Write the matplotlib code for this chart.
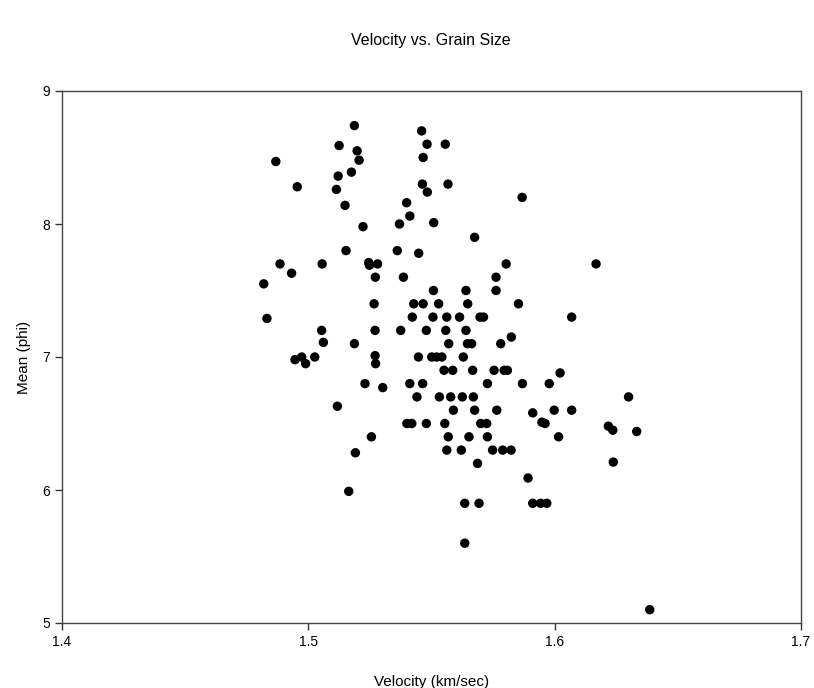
import matplotlib
matplotlib.use("Agg")
import matplotlib.pyplot as plt

plt.rcParams['font.family'] = ['Liberation Sans', 'DejaVu Sans']

velocity = [
    1.5187, 1.5460, 1.5125, 1.5482, 1.5198, 1.4868, 1.5206, 1.5466, 1.5175, 1.5121,
    1.5114, 1.4955, 1.5463, 1.5483, 1.5149, 1.5399, 1.5412, 1.5370, 1.5509, 1.5222,
    1.5153, 1.5361, 1.5448, 1.4885, 1.4932, 1.5056, 1.5245, 1.5248, 1.5281, 1.4819,
    1.5272, 1.5386, 1.5508,
    1.5556, 1.5567, 1.5868, 1.5675, 1.5803, 1.6168, 1.5762, 1.5640, 1.5762,
    1.5267, 1.5428, 1.5466, 1.5529, 1.4832, 1.5422, 1.5506, 1.5054, 1.5271, 1.5375,
    1.5479, 1.5061, 1.5187, 1.4946, 1.4973, 1.4989, 1.5026, 1.5271, 1.5273, 1.5447,
    1.5230, 1.5302, 1.5412, 1.5464, 1.5441, 1.5532, 1.5118, 1.5400, 1.5420, 1.5479,
    1.5256, 1.5191,
    1.5164, 1.5635, 1.5635, 1.5693, 1.5892, 1.5911, 1.5943, 1.5968, 1.6386,
    1.5647, 1.5853, 1.5562, 1.5614, 1.5697, 1.5711, 1.5558, 1.5640, 1.5824, 1.5570,
    1.5646, 1.5663, 1.5781, 1.5501, 1.5521, 1.5542, 1.5629, 1.5551, 1.5586, 1.5667,
    1.5754, 1.5795, 1.5808,
    1.5727, 1.5869, 1.5578, 1.5625, 1.5670, 1.5589, 1.5675, 1.5765, 1.5554, 1.5700,
    1.5724, 1.5568, 1.5652, 1.5727, 1.5562, 1.5621, 1.5748, 1.5789, 1.5823, 1.5687,
    1.6022, 1.5978, 1.5911, 1.5998, 1.6069, 1.5948, 1.5961, 1.6016, 1.6218, 1.6236,
    1.6238, 1.6069, 1.6300, 1.6333,
]

mean_phi = [
    8.74, 8.70, 8.59, 8.60, 8.55, 8.47, 8.48, 8.50, 8.39, 8.36,
    8.26, 8.28, 8.30, 8.24, 8.14, 8.16, 8.06, 8.00, 8.01, 7.98,
    7.80, 7.80, 7.78, 7.70, 7.63, 7.70, 7.71, 7.69, 7.70, 7.55,
    7.60, 7.60, 7.50,
    8.60, 8.30, 8.20, 7.90, 7.70, 7.70, 7.60, 7.50, 7.50,
    7.40, 7.40, 7.40, 7.40, 7.29, 7.30, 7.30, 7.20, 7.20, 7.20,
    7.20, 7.11, 7.10, 6.98, 7.00, 6.95, 7.00, 7.01, 6.95, 7.00,
    6.80, 6.77, 6.80, 6.80, 6.70, 6.70, 6.63, 6.50, 6.50, 6.50,
    6.40, 6.28,
    5.99, 5.90, 5.60, 5.90, 6.09, 5.90, 5.90, 5.90, 5.10,
    7.40, 7.40, 7.30, 7.30, 7.30, 7.30, 7.20, 7.20, 7.15, 7.10,
    7.10, 7.10, 7.10, 7.00, 7.00, 7.00, 7.00, 6.90, 6.90, 6.90,
    6.90, 6.90, 6.90,
    6.80, 6.80, 6.70, 6.70, 6.70, 6.60, 6.60, 6.60, 6.50, 6.50,
    6.50, 6.40, 6.40, 6.40, 6.30, 6.30, 6.30, 6.30, 6.30, 6.20,
    6.88, 6.80, 6.58, 6.60, 6.60, 6.51, 6.50, 6.40, 6.48, 6.45,
    6.21, 7.30, 6.70, 6.44,
]

x_ticks = [1.4, 1.5, 1.6, 1.7]
x_tick_labels = ["1.4", "1.5", "1.6", "1.7"]
y_ticks = [5, 6, 7, 8, 9]
y_tick_labels = ["5", "6", "7", "8", "9"]

fig = plt.figure(figsize=(8.14, 6.88), dpi=100)
ax = fig.add_axes([62/814, 1 - 623/688, (801 - 62)/814, (623 - 91)/688])

ax.scatter(velocity, mean_phi, s=46, color='black', edgecolors='none', zorder=3)

ax.set_xlim(1.4, 1.7)
ax.set_ylim(5, 9)
ax.set_xticks(x_ticks)
ax.set_xticklabels(x_tick_labels)
ax.set_yticks(y_ticks)
ax.set_yticklabels(y_tick_labels)
ax.tick_params(direction='out', length=5, width=1, colors='#333333', labelsize=10, labelcolor='black')
for sp in ax.spines.values():
    sp.set_color('#444444')
    sp.set_linewidth(1)

ax.set_xlabel("Velocity (km/sec)", fontsize=11, labelpad=19)
ax.set_ylabel("Mean (phi)", fontsize=11, labelpad=8)
fig.text(431/814, 1 - 40/688, "Velocity vs. Grain Size", ha='center', va='center', fontsize=11.5)

fig.savefig("out.png", dpi=100)
